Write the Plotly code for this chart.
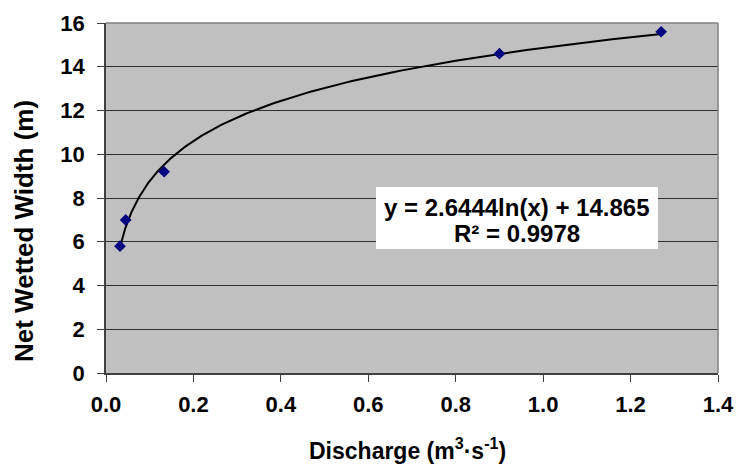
import numpy as np
import plotly.graph_objects as go

# Measured discharge vs. net wetted width
discharge = [0.032, 0.045, 0.133, 0.90, 1.27]
wetted_width = [5.8, 7.0, 9.2, 14.6, 15.6]

# Logarithmic trendline coefficients: y = a*ln(x) + b
fit_a = 2.6444
fit_b = 14.865
fit_r2 = 0.9978

x_ticks = [0.0, 0.2, 0.4, 0.6, 0.8, 1.0, 1.2, 1.4]
y_ticks = [0, 2, 4, 6, 8, 10, 12, 14, 16]

FONT = "Liberation Sans, Arial, sans-serif"

W, H = 737, 467
ML, MR, MT, MB = 106, 19, 23, 94
plot_w = W - ML - MR
plot_h = H - MT - MB


def px_to_paper(px, py):
    return (px - ML) / plot_w, (H - MB - py) / plot_h


xs = np.geomspace(min(discharge), max(discharge), 200)
ys = fit_a * np.log(xs) + fit_b

fig = go.Figure()
fig.add_trace(go.Scatter(
    x=xs, y=ys, mode="lines",
    line=dict(color="black", width=2),
    hoverinfo="skip", showlegend=False,
))
fig.add_trace(go.Scatter(
    x=discharge, y=wetted_width, mode="markers",
    marker=dict(symbol="diamond", size=9, color="#000080"),
    showlegend=False,
))

# equation box (paper coordinates from pixel extents)
bx0, by0 = px_to_paper(376, 249)
bx1, by1 = px_to_paper(658, 187)
eq_x, eq1_y = px_to_paper(517, 207)
_, eq2_y = px_to_paper(517, 233)
ytitle_x, ytitle_y = px_to_paper(24, 231)
xtitle_x, xtitle_y = px_to_paper(407, 449)

centered = dict(xref="paper", yref="paper", xanchor="center", yanchor="middle",
                showarrow=False)

fig.update_layout(
    width=W, height=H,
    margin=dict(l=ML, r=MR, t=MT, b=MB),
    paper_bgcolor="white",
    plot_bgcolor="#C0C0C0",
    font=dict(family=FONT, size=20, color="black"),
    xaxis=dict(
        range=[0, 1.4], tickvals=x_ticks,
        ticktext=[f"{v:.1f}" for v in x_ticks],
        showgrid=False, zeroline=False, automargin=False,
        showline=True, linecolor="#404040", linewidth=1.5, mirror=False,
        ticks="outside", ticklen=7, tickcolor="#404040",
        tickfont=dict(family=FONT, size=22, color="black", weight="bold"),
        ticklabelstandoff=4,
    ),
    yaxis=dict(
        range=[0, 16], tickvals=y_ticks,
        showgrid=True, gridcolor="#303030", gridwidth=1,
        zeroline=False, automargin=False,
        showline=True, linecolor="#404040", linewidth=1.5,
        ticks="outside", ticklen=7, tickcolor="#404040",
        tickfont=dict(family=FONT, size=22, color="black", weight="bold"),
        ticklabelstandoff=8,
    ),
    shapes=[
        # grey frame on the top and right sides of the plot area
        dict(type="line", xref="paper", yref="paper", x0=0, x1=1, y0=1, y1=1,
             line=dict(color="#808080", width=1.5)),
        dict(type="line", xref="paper", yref="paper", x0=1, x1=1, y0=0, y1=1,
             line=dict(color="#808080", width=1.5)),
        # white box behind the trendline equation
        dict(type="rect", xref="paper", yref="paper",
             x0=bx0, x1=bx1, y0=by0, y1=by1,
             fillcolor="white", line=dict(width=0)),
    ],
    annotations=[
        dict(x=eq_x, y=eq1_y, text=f"y = {fit_a}ln(x) + {fit_b}",
             font=dict(family=FONT, size=24, color="black", weight="bold"),
             **centered),
        dict(x=eq_x, y=eq2_y, text=f"R² = {fit_r2}",
             font=dict(family=FONT, size=24, color="black", weight="bold"),
             **centered),
        dict(x=ytitle_x, y=ytitle_y, text="Net Wetted Width (m)", textangle=-90,
             font=dict(family=FONT, size=26, color="black", weight="bold"),
             **centered),
        dict(x=xtitle_x, y=xtitle_y,
             text="Discharge (m<sup>3</sup>·s<sup>-1</sup>)",
             font=dict(family=FONT, size=23, color="black", weight="bold"),
             **centered),
    ],
)

fig.write_html("out.html")
